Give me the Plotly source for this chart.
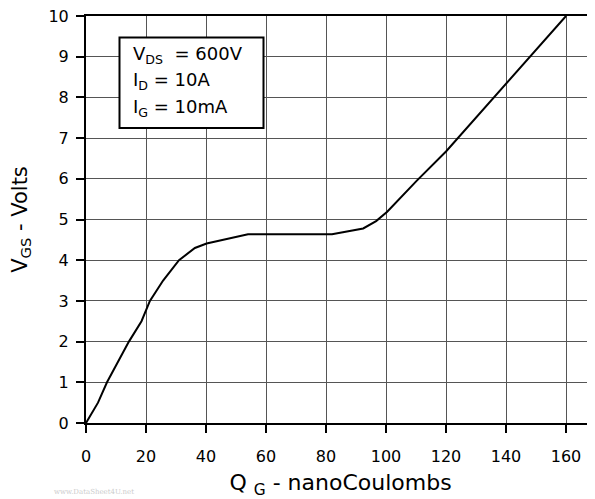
import plotly.graph_objects as go

qg = [0, 4, 7, 14.3, 18.5, 21.3, 25.7, 31, 36.3, 40.2, 54, 82, 92.4, 96.7, 100.4, 110.2, 120, 136.1, 160]
vgs = [0, 0.5, 1.0, 2.0, 2.5, 3.0, 3.5, 4.0, 4.3, 4.41, 4.64, 4.64, 4.78, 4.96, 5.19, 5.95, 6.67, 8.0, 10.0]

x_ticks = [0, 20, 40, 60, 80, 100, 120, 140, 160]
y_ticks = [0, 1, 2, 3, 4, 5, 6, 7, 8, 9, 10]

cond_lines = ["V<sub>DS</sub>  = 600V", "I<sub>D</sub> = 10A", "I<sub>G</sub> = 10mA"]

# page body has an 8px margin; compensate
OFF = 8
FW, FH = 595 - OFF, 499 - OFF
L, T, B = 86 - OFF, 16 - OFF, 499 - 423
W, H = FW - L, FH - T - B

def px(xp):  # page pixel -> paper x
    return (xp - OFF - L) / W

def py(yp):  # page pixel -> paper y
    return (FH - B - (yp - OFF)) / H

fig = go.Figure()
fig.add_trace(go.Scatter(x=qg, y=vgs, mode="lines",
                         line=dict(color="black", width=2), showlegend=False))

font = "DejaVu Sans, Liberation Sans, Arial, sans-serif"
fig.update_layout(
    width=FW, height=FH,
    margin=dict(l=L, r=0, t=T, b=B),
    paper_bgcolor="white", plot_bgcolor="white",
    font=dict(family=font, color="black", size=16),
    xaxis=dict(range=[0, W / 3.0], tickvals=x_ticks, ticks="outside", ticklen=8,
               tickcolor="black", tickwidth=1.5, showgrid=True, gridcolor="#555555", gridwidth=1,
               showline=True, linecolor="black", linewidth=2, mirror=True,
               zeroline=False, tickfont=dict(size=16), automargin=False,
               ticklabelstandoff=10, ticklabeloverflow="allow",
               title=dict(text="Q <sub>G</sub> - nanoCoulombs", font=dict(size=22), standoff=12)),
    yaxis=dict(range=[0, 10], tickvals=y_ticks, ticks="outside", ticklen=8,
               tickcolor="black", tickwidth=1.5, showgrid=True, gridcolor="#555555", gridwidth=1,
               showline=True, linecolor="black", linewidth=2,
               zeroline=False, tickfont=dict(size=16), automargin=False,
               ticklabelstandoff=4, ticklabeloverflow="allow",
               title=dict(text="V<sub>GS</sub> - Volts", font=dict(size=21), standoff=30)),
)

fig.add_shape(type="rect", xref="paper", yref="paper",
              x0=px(119.5), x1=px(263.5), y0=py(128), y1=py(37.5),
              line=dict(color="black", width=2), fillcolor="white", layer="above")

for i, t in enumerate(cond_lines):
    fig.add_annotation(
        xref="paper", yref="paper", x=px(131), y=py(55 + 26.5 * i),
        xanchor="left", yanchor="middle", showarrow=False, align="left",
        text=t, font=dict(size=18, family=font, color="black"),
    )

fig.add_annotation(
    xref="paper", yref="paper", x=px(52), y=py(498), xanchor="left", yanchor="bottom",
    showarrow=False, text="www.DataSheet4U.net",
    font=dict(size=7, family="DejaVu Serif, serif", color="#cccccc"),
)

fig.write_html("out.html")
